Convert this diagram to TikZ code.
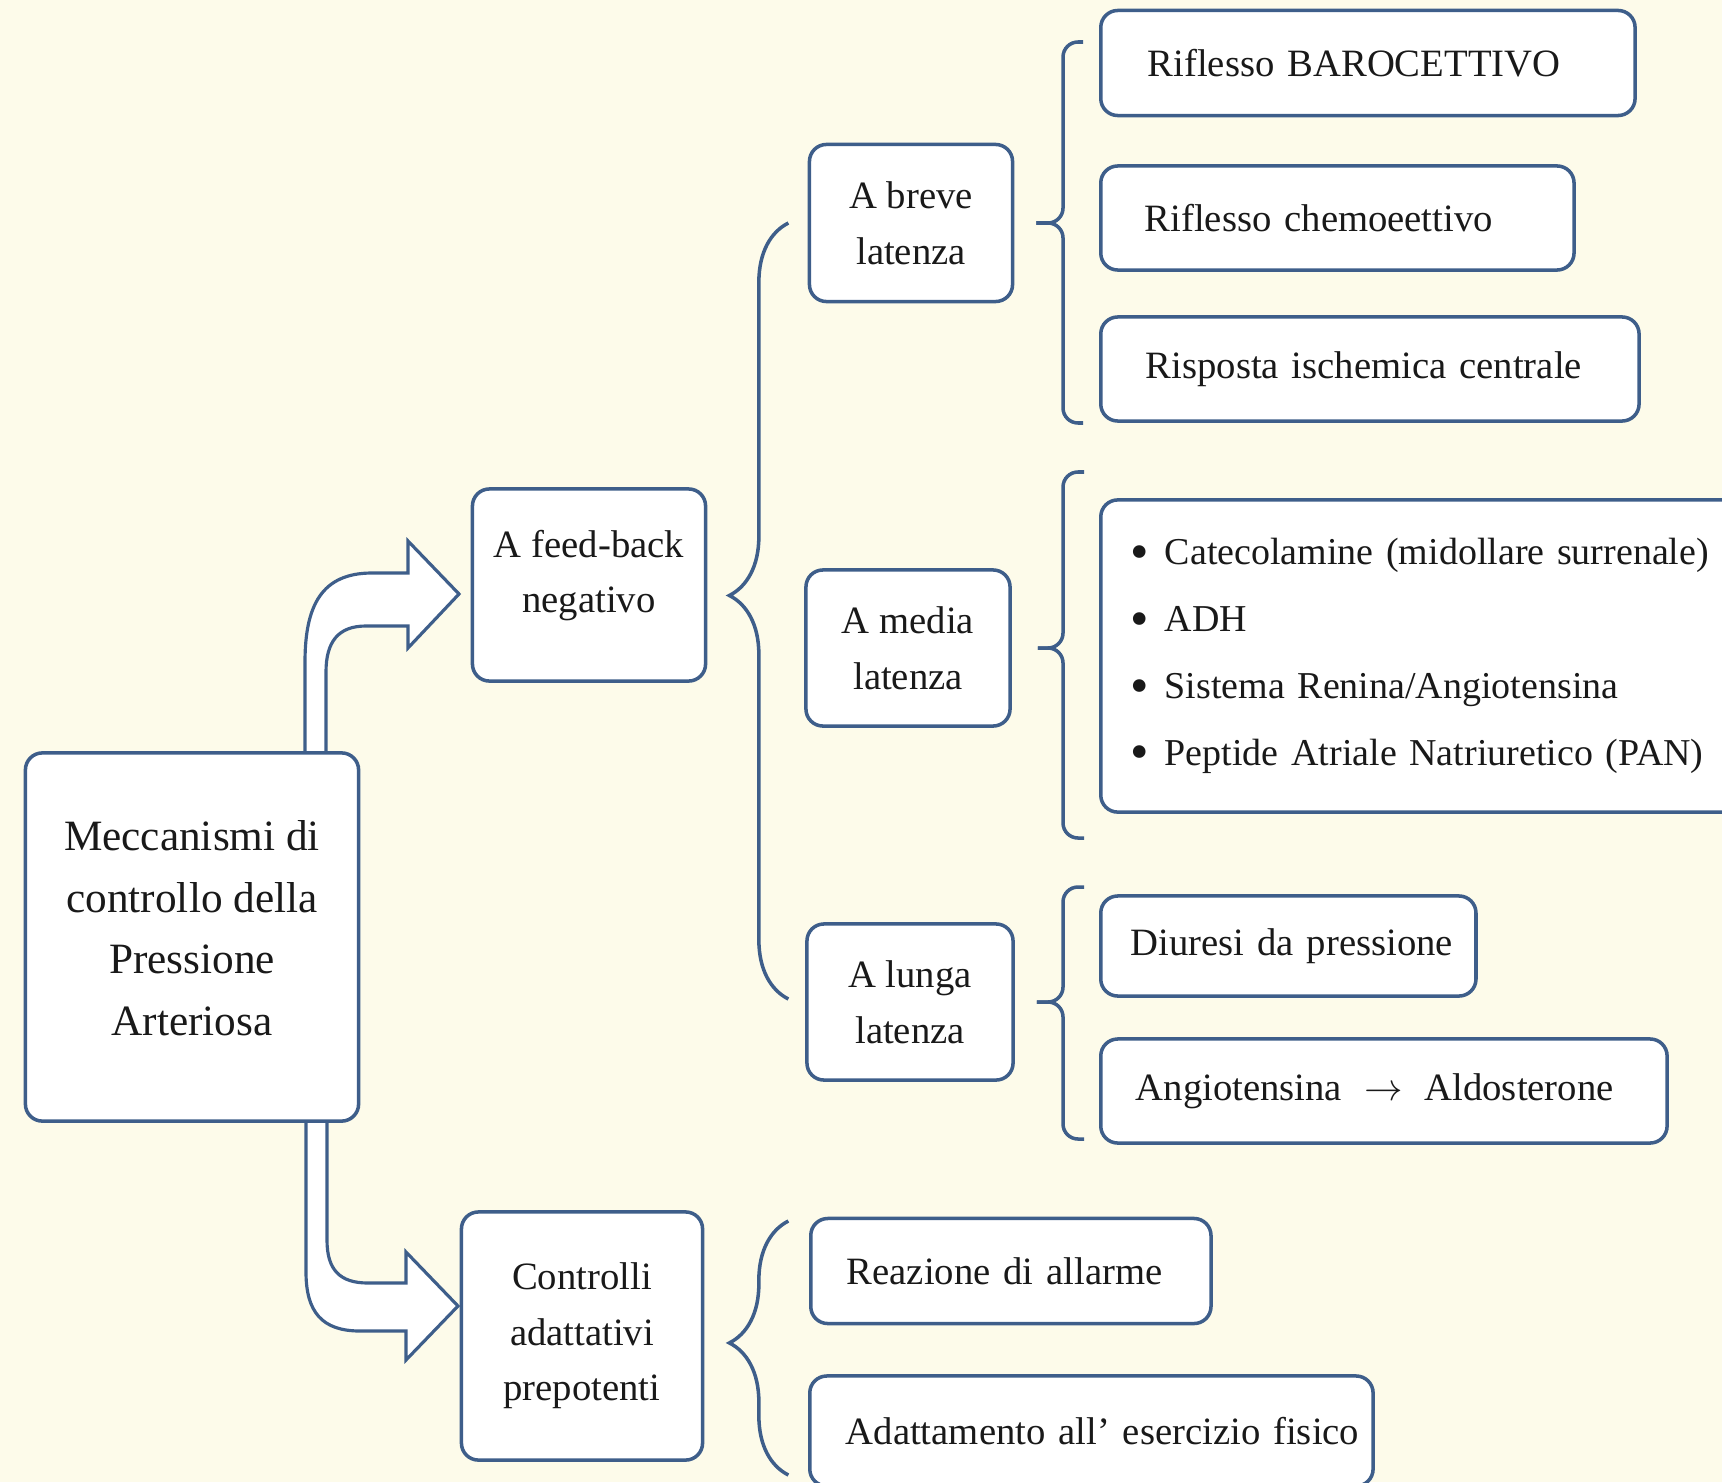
\documentclass[tikz,border=0pt]{standalone}
\usepackage{fontspec}
\setmainfont{Liberation Serif}
\usetikzlibrary{backgrounds,decorations.pathreplacing}
\definecolor{boxline}{RGB}{62,94,138}
\definecolor{paper}{RGB}{253,251,234}
\newcommand{\puntino}{\makebox[0.34cm][l]{\raisebox{-1.3pt}{\fontsize{15}{15}\selectfont\textbullet}}}
\begin{document}
\begin{tikzpicture}
[x=0.01cm, y=-0.01cm, font=\fontsize{11}{15.8}\selectfont, text=black!90,
box/.style={rectangle, rounded corners=0.17cm, draw=boxline, fill=white, line width=1pt, inner sep=0pt, align=center},
leaf/.style={box, anchor=west, align=left},
bendarrow/.style={draw=boxline, fill=white, line width=0.9pt, line join=miter},
bigbrace/.style={draw=boxline, line width=1pt, decorate, decoration={brace, amplitude=0.59cm, aspect=0.52}},
smallbrace/.style={draw=boxline, line width=1pt, rounded corners=0.15cm}]

\useasboundingbox (0,0) rectangle (1722,1482);

% left column
\node[box, minimum width=3.33cm, minimum height=3.68cm, font=\fontsize{12.3}{17.6}\selectfont] (meccanismi) at (192,937) {Meccanismi di\\controllo della\\Pressione\\Arteriosa\rule[-0.18cm]{0pt}{0.18cm}};
\node[box, minimum width=2.33cm, minimum height=1.92cm] (feedback) at (589,585) {A feed-back\\negativo\rule[-0.27cm]{0pt}{0.27cm}};
\node[box, minimum width=2.41cm, minimum height=2.48cm] (controlli) at (582,1336) {Controlli\\adattativi\\prepotenti};

% latenze
\node[box, minimum width=2.03cm, minimum height=1.57cm] (breve) at (911,223) {A breve\\latenza};
\node[box, minimum width=2.04cm, minimum height=1.56cm] (media) at (908,648) {A media\\latenza};
\node[box, minimum width=2.06cm, minimum height=1.56cm] (lunga) at (910,1002) {A lunga\\latenza};

% meccanismi specifici
\node[leaf, minimum height=1.05cm, inner xsep=0.47cm, text width=4.40cm] (baro) at (1099,63) {Riflesso BAROCETTIVO};
\node[leaf, minimum height=1.04cm, inner xsep=0.44cm, text width=3.85cm] (chemo) at (1099,218) {Riflesso chemoeettivo};
\node[leaf, minimum height=1.04cm, inner xsep=0.45cm, text width=4.48cm] (ischemica) at (1099,369) {Risposta ischemica centrale};
\node[leaf, minimum height=3.12cm, inner xsep=0.30cm, text width=6.5cm, font=\fontsize{10.8}{19}\selectfont] (ormoni) at (1099,656)
  {\puntino Catecolamine (midollare surrenale)\\
   \puntino ADH\\
   \puntino Sistema Renina/Angiotensina\\
   \puntino Peptide Atriale Natriuretico (PAN)};
\node[leaf, minimum height=1.00cm, inner xsep=0.30cm, text width=3.15cm] (diuresi) at (1099,946) {\mbox{Diuresi da pressione}};
\node[leaf, minimum height=1.04cm, inner xsep=0.35cm, text width=4.96cm] (angio) at (1099,1091) {Angiotensina\hspace{0.22cm}$\rightarrow$\hspace{0.22cm}Aldosterone};
\node[leaf, minimum height=1.05cm, inner xsep=0.36cm, text width=3.28cm] (allarme) at (809,1271) {Reazione di allarme};
\node[leaf, minimum height=1.10cm, inner xsep=0.36cm, text width=4.91cm] (esercizio) at (808,1431) {\mbox{Adattamento all’ esercizio fisico}};

% braces
\draw[bigbrace] ([xshift=0.81cm]feedback.east |- 0,999) -- ([xshift=0.81cm]feedback.east |- 0,223);
\draw[bigbrace] ([xshift=0.84cm]controlli.east |- 0,1475) -- ([xshift=0.84cm]controlli.east |- 0,1221);
\draw[smallbrace] ([xshift=0.22cm]breve.east) -| (1063,42) -- (1083,42);
\draw[smallbrace] ([xshift=0.22cm]breve.east) -| (1063,423) -- (1083,423);
\draw[smallbrace] ([xshift=0.26cm]media.east) -| (1063,472) -- (1084,472);
\draw[smallbrace] ([xshift=0.26cm]media.east) -| (1063,838) -- (1084,838);
\draw[smallbrace] ([xshift=0.22cm]lunga.east) -| (1063,887) -- (1084,887);
\draw[smallbrace] ([xshift=0.22cm]lunga.east) -| (1063,1139) -- (1084,1139);

\begin{scope}[on background layer]
\fill[paper] (0,0) rectangle (1722,1482);
% bent arrows
\filldraw[bendarrow] (305,753) -- (305,662) .. controls (305,605) and (322,573) .. (372,573) -- (408,573) -- (408,541)
  -- (459,594) -- (408,648) -- (408,626) -- (366,626) .. controls (338,626) and (326,642) .. (326,672) -- (326,753) -- cycle;
\filldraw[bendarrow] (306,1121) -- (306,1272) .. controls (306,1312) and (322,1331) .. (360,1331) -- (406,1331) -- (406,1360)
  -- (458,1306) -- (406,1252) -- (406,1283) -- (368,1283) .. controls (340,1283) and (327,1270) .. (327,1240) -- (327,1121) -- cycle;
\end{scope}
\end{tikzpicture}
\end{document}
